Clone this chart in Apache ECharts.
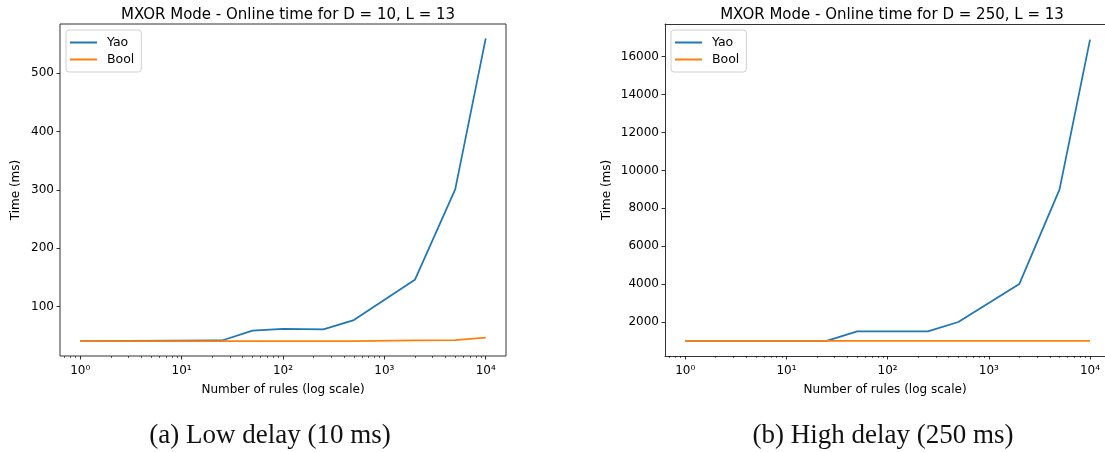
<!DOCTYPE html>
<html>
<head>
<meta charset="utf-8">
<script src="https://cdn.jsdelivr.net/npm/echarts@6/dist/echarts.min.js"></script>
<style>
  html, body { margin: 0; padding: 0; background: #fff; }
  #chart { width: 1105px; height: 452px; }
</style>
</head>
<body>
<div id="chart"></div>
<script>
// Number of rules (x, log scale)
const rules = [1, 25, 50, 100, 250, 500, 2000, 5000, 10000];

// Online time in ms, low delay (D = 10)
const yaoLow  = [41, 42, 59, 62, 61, 77, 146, 301, 560];
const boolLow = [41, 41, 41, 41, 41, 41, 42, 42.5, 47];

// Online time in ms, high delay (D = 250)
const yaoHigh  = [1000, 1000, 1500, 1500, 1500, 2000, 4000, 9000, 16900];
const boolHigh = [1000, 1000, 1000, 1000, 1000, 1000, 1000, 1000, 1000];

// Tick labels
const xMajor = [1, 10, 100, 1000, 10000];
const xMajorLabels = ['10\u2070', '10\u00b9', '10\u00b2', '10\u00b3', '10\u2074'];
const xMinor = [0.7, 0.8, 0.9, 2, 3, 4, 5, 6, 7, 8, 9, 20, 30, 40, 50, 60, 70, 80, 90,
  200, 300, 400, 500, 600, 700, 800, 900, 2000, 3000, 4000, 5000, 6000, 7000, 8000, 9000];
const yTicksLow = [100, 200, 300, 400, 500];
const yTicksHigh = [2000, 4000, 6000, 8000, 10000, 12000, 14000, 16000];

const titles = ['MXOR Mode - Online time for D = 10, L = 13', 'MXOR Mode - Online time for D = 250, L = 13'];
const captions = ['(a) Low delay (10 ms)', '(b) High delay (250 ms)'];

const BLUE = '#1f77b4', ORANGE = '#ff7f0e';
const FONT = 'DejaVu Sans';
const SPINE = { color: '#333', width: 1 };
const X_MIN = Math.pow(10, -0.2);
const X_MAX = [Math.pow(10, 4.2), Math.pow(10, 4.148)];

const grids = [
  { left: 60, top: 24, width: 446, height: 332, show: true, borderColor: '#333', borderWidth: 1 },
  { left: 665, top: 24, right: 0, height: 332, show: false }
];

function pairs(ys) { return rules.map((x, i) => [x, ys[i]]); }

function majorX(gi) {
  return {
    type: 'log', logBase: 10, gridIndex: gi, min: X_MIN, max: X_MAX[gi], position: 'bottom',
    name: 'Number of rules (log scale)', nameLocation: 'middle', nameGap: 28,
    nameTextStyle: { fontFamily: FONT, fontSize: 12, color: '#000' },
    axisLine: { show: gi === 1, lineStyle: SPINE },
    axisTick: { show: true, length: 3.5, inside: false, customValues: xMajor,
      lineStyle: { color: '#000', width: 0.8 } },
    axisLabel: { customValues: xMajor, fontFamily: FONT, fontSize: 12, color: '#000', margin: 9,
      formatter: v => xMajorLabels[xMajor.indexOf(Math.round(v))] || '' },
    splitLine: { show: false }, minorTick: { show: false }
  };
}
function minorX(gi) {
  return {
    type: 'log', logBase: 10, gridIndex: gi, min: X_MIN, max: X_MAX[gi], position: 'bottom',
    axisLine: { show: false },
    axisTick: { show: true, length: 2, customValues: xMinor, lineStyle: { color: '#000', width: 0.6 } },
    axisLabel: { show: false }, splitLine: { show: false }
  };
}
// top spine of the right-hand panel (its right edge runs past the page)
function topX(gi) {
  return {
    type: 'log', logBase: 10, gridIndex: gi, min: X_MIN, max: X_MAX[gi], position: 'top',
    axisLine: { show: true, lineStyle: SPINE },
    axisTick: { show: false }, axisLabel: { show: false }, splitLine: { show: false }
  };
}
function yAxis(gi, min, max, ticks, gap) {
  return {
    type: 'value', gridIndex: gi, min: min, max: max,
    name: 'Time (ms)', nameLocation: 'middle', nameGap: gap,
    nameTextStyle: { fontFamily: FONT, fontSize: 12, color: '#000' },
    axisLine: { show: gi === 1, lineStyle: SPINE },
    axisTick: { show: true, length: 3.5, customValues: ticks, lineStyle: { color: '#000', width: 0.8 } },
    axisLabel: { customValues: ticks, fontFamily: FONT, fontSize: 12, color: '#000', margin: 6,
      formatter: v => String(v) },
    splitLine: { show: false }
  };
}
function line(name, data, color, xi, yi) {
  return {
    name: name, type: 'line', xAxisIndex: xi, yAxisIndex: yi, data: data,
    showSymbol: false, symbol: 'none', animation: false,
    lineStyle: { color: color, width: 1.75 }, itemStyle: { color: color }
  };
}
function legend(left) {
  return {
    data: ['Yao', 'Bool'], orient: 'vertical', left: left, top: 30,
    icon: 'rect', itemWidth: 27, itemHeight: 2, itemGap: 4,
    padding: [6, 7, 6, 4], borderColor: '#d0d0d0', borderWidth: 1, borderRadius: 3,
    backgroundColor: '#fff',
    textStyle: { fontFamily: FONT, fontSize: 12.5, color: '#000', padding: [0, 0, 0, 5] },
    selectedMode: false
  };
}

const option = {
  backgroundColor: '#fff',
  animation: false,
  title: [
    { text: titles[0], left: 283, top: 3, textAlign: 'center',
      textStyle: { fontFamily: FONT, fontSize: 15, fontWeight: 'normal', color: '#000' } },
    { text: titles[1], left: 887, top: 3, textAlign: 'center',
      textStyle: { fontFamily: FONT, fontSize: 15, fontWeight: 'normal', color: '#000' } },
    { text: captions[0], left: 265, top: 417, textAlign: 'center',
      textStyle: { fontFamily: 'Liberation Serif', fontSize: 27, fontWeight: 'normal', color: '#111' } },
    { text: captions[1], left: 878, top: 417, textAlign: 'center',
      textStyle: { fontFamily: 'Liberation Serif', fontSize: 27, fontWeight: 'normal', color: '#111' } }
  ],
  grid: grids,
  legend: [legend(66), legend(671)],
  xAxis: [majorX(0), minorX(0), majorX(1), minorX(1), topX(1)],
  yAxis: [yAxis(0, 15.4, 584.6, yTicksLow, 38), yAxis(1, 204, 17726, yTicksHigh, 52)],
  series: [
    line('Yao', pairs(yaoLow), BLUE, 0, 0),
    line('Bool', pairs(boolLow), ORANGE, 0, 0),
    line('Yao', pairs(yaoHigh), BLUE, 2, 1),
    line('Bool', pairs(boolHigh), ORANGE, 2, 1)
  ]
};

const chart = echarts.init(document.getElementById('chart'), null, { renderer: 'canvas' });
chart.setOption(option);
</script>
</body>
</html>
